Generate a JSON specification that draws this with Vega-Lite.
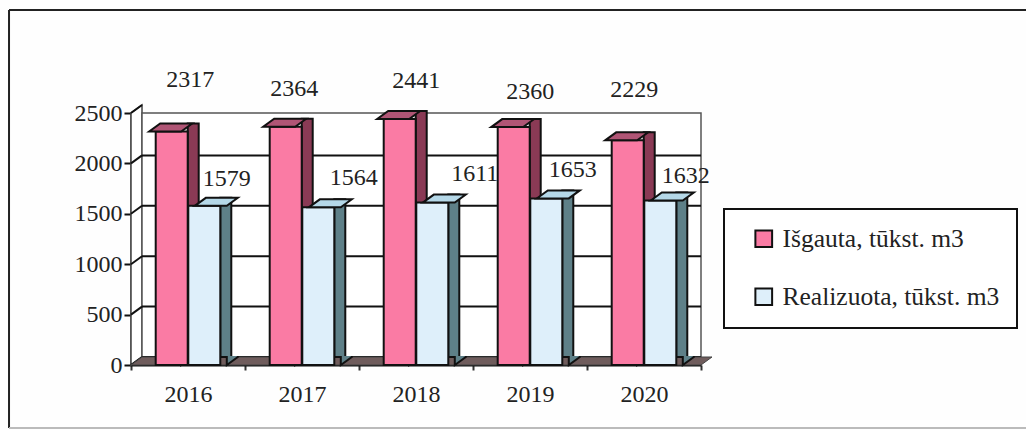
{"$schema":"https://vega.github.io/schema/vega-lite/v6.json","width":570,"height":252,"autosize":{"type":"none"},"padding":{"left":131,"top":113,"right":325,"bottom":65},"background":"#fefefe","config":{"view":{"stroke":null},"text":{"font":"Liberation Serif"},"legend":{"strokeWidth":2}},"datasets":{"rows":[{"year":"2016","series":"Išgauta, tūkst. m3","value":2317},{"year":"2016","series":"Realizuota, tūkst. m3","value":1579},{"year":"2017","series":"Išgauta, tūkst. m3","value":2364},{"year":"2017","series":"Realizuota, tūkst. m3","value":1564},{"year":"2018","series":"Išgauta, tūkst. m3","value":2441},{"year":"2018","series":"Realizuota, tūkst. m3","value":1611},{"year":"2019","series":"Išgauta, tūkst. m3","value":2360},{"year":"2019","series":"Realizuota, tūkst. m3","value":1653},{"year":"2020","series":"Išgauta, tūkst. m3","value":2229},{"year":"2020","series":"Realizuota, tūkst. m3","value":1632}],"grid":[{"v":0},{"v":500},{"v":1000},{"v":1500},{"v":2000},{"v":2500}],"one":[{"k":1}]},"resolve":{"scale":{"x":"independent","xOffset":"independent"},"axis":{"x":"independent"}},"layer":[{"data":{"name":"one"},"mark":{"type":"rule","color":"#222","strokeWidth":2},"encoding":{"x":{"datum":-0.214,"type":"quantitative","scale":{"domain":[0,1],"nice":false},"axis":null},"x2":{"datum":1.6},"y":{"datum":3522,"type":"quantitative","scale":{"domain":[0,2500],"nice":false},"axis":{"values":[0,500,1000,1500,2000,2500],"format":"d","title":null,"grid":false,"domainColor":"#111","domainWidth":2,"tickColor":"#111","tickWidth":2,"tickSize":7,"labelFont":"Liberation Serif","labelFontSize":24,"labelColor":"#222","labelPadding":2}}}},{"data":{"name":"one"},"mark":{"type":"rule","color":"#222","strokeWidth":2},"encoding":{"x":{"datum":-0.214,"type":"quantitative","scale":{"domain":[0,1],"nice":false},"axis":null},"y":{"datum":3522,"type":"quantitative"},"y2":{"datum":-625}}},{"data":{"name":"one"},"mark":{"type":"rule","color":"#bbb","strokeWidth":2},"encoding":{"x":{"datum":-0.214,"type":"quantitative","scale":{"domain":[0,1],"nice":false},"axis":null},"x2":{"datum":1.6},"y":{"datum":-625,"type":"quantitative"}}},{"data":{"name":"one"},"mark":{"type":"point","shape":"M0,0 L11,-8 L11,-260 L0,-252 Z","size":4,"filled":true,"opacity":1,"fill":"#fff","stroke":"#444","strokeWidth":1.5},"encoding":{"x":{"datum":0,"type":"quantitative","scale":{"domain":[0,1],"nice":false},"axis":null},"y":{"datum":0,"type":"quantitative"}}},{"data":{"name":"one"},"mark":{"type":"rect","fill":"#fff","stroke":"#555","strokeWidth":1.5,"xOffset":11,"yOffset":-8},"encoding":{"x":{"datum":0,"type":"quantitative","scale":{"domain":[0,1],"nice":false},"axis":null},"x2":{"datum":1},"y":{"datum":0,"type":"quantitative"},"y2":{"datum":2500}}},{"data":{"name":"grid"},"mark":{"type":"rule","color":"#111","strokeWidth":2,"xOffset":11,"yOffset":-8},"transform":[{"filter":"datum.v<2500"}],"encoding":{"x":{"datum":0,"type":"quantitative","scale":{"domain":[0,1],"nice":false},"axis":null},"x2":{"datum":1},"y":{"field":"v","type":"quantitative"}}},{"data":{"name":"grid"},"mark":{"type":"point","shape":"M0,0 L11,-8","size":4,"filled":false,"opacity":1,"stroke":"#111","strokeWidth":2},"encoding":{"x":{"datum":0,"type":"quantitative","scale":{"domain":[0,1],"nice":false},"axis":null},"y":{"field":"v","type":"quantitative"}}},{"data":{"name":"one"},"mark":{"type":"point","shape":"M0,0 L11,-8 L581,-8 L570,0 Z","size":4,"filled":true,"opacity":1,"fill":"#6f5c5c","stroke":"#444","strokeWidth":1},"encoding":{"x":{"datum":0,"type":"quantitative","scale":{"domain":[0,1],"nice":false},"axis":null},"y":{"datum":0,"type":"quantitative"}}},{"data":{"name":"rows"},"encoding":{"x":{"field":"year","type":"nominal","axis":null,"scale":{"domain":["2016","2017","2018","2019","2020"],"padding":0}},"xOffset":{"field":"series","scale":{"domain":["Išgauta, tūkst. m3","Realizuota, tūkst. m3"],"paddingOuter":0.75,"paddingInner":0}},"y":{"field":"value","type":"quantitative"},"text":{"field":"value"}},"layer":[{"transform":[{"filter":"datum.value==2317"}],"mark":{"type":"text","fontSize":24,"font":"Liberation Serif","color":"#222","dx":25,"dy":-51}},{"transform":[{"filter":"datum.value==1579"}],"mark":{"type":"text","fontSize":24,"font":"Liberation Serif","color":"#222","dx":16,"dy":-27}},{"transform":[{"filter":"datum.value==2364"}],"mark":{"type":"text","fontSize":24,"font":"Liberation Serif","color":"#222","dx":15,"dy":-38}},{"transform":[{"filter":"datum.value==1564"}],"mark":{"type":"text","fontSize":24,"font":"Liberation Serif","color":"#222","dx":29,"dy":-29}},{"transform":[{"filter":"datum.value==2441"}],"mark":{"type":"text","fontSize":24,"font":"Liberation Serif","color":"#222","dx":23,"dy":-38}},{"transform":[{"filter":"datum.value==1611"}],"mark":{"type":"text","fontSize":24,"font":"Liberation Serif","color":"#222","dx":36,"dy":-29}},{"transform":[{"filter":"datum.value==2360"}],"mark":{"type":"text","fontSize":24,"font":"Liberation Serif","color":"#222","dx":23,"dy":-35}},{"transform":[{"filter":"datum.value==1653"}],"mark":{"type":"text","fontSize":24,"font":"Liberation Serif","color":"#222","dx":20,"dy":-28}},{"transform":[{"filter":"datum.value==2229"}],"mark":{"type":"text","fontSize":24,"font":"Liberation Serif","color":"#222","dx":13,"dy":-50}},{"transform":[{"filter":"datum.value==1632"}],"mark":{"type":"text","fontSize":24,"font":"Liberation Serif","color":"#222","dx":19,"dy":-24.5}}]},{"data":{"name":"rows"},"transform":[{"filter":"datum.series=='Išgauta, tūkst. m3'"}],"mark":{"type":"bar","width":11,"yOffset":-8,"fill":"#8a3a55","stroke":"#111","strokeWidth":2},"encoding":{"x":{"field":"year","type":"nominal","axis":null,"scale":{"padding":0,"range":[21.5,591.5]}},"xOffset":{"field":"series","scale":{"domain":["Išgauta, tūkst. m3","Realizuota, tūkst. m3"],"paddingOuter":0.75,"paddingInner":0}},"y":{"field":"value","type":"quantitative"}}},{"data":{"name":"rows"},"transform":[{"filter":"datum.series=='Išgauta, tūkst. m3'"}],"mark":{"type":"point","shape":"M16,-9 L16,0 L27,-8 L27,-9","size":4,"filled":true,"opacity":1,"fill":"#8a3a55","stroke":"#111","strokeWidth":2},"encoding":{"x":{"field":"year","type":"nominal","axis":null,"scale":{"padding":0}},"xOffset":{"field":"series","scale":{"domain":["Išgauta, tūkst. m3","Realizuota, tūkst. m3"],"paddingOuter":0.75,"paddingInner":0}},"y":{"datum":0,"type":"quantitative"}}},{"data":{"name":"rows"},"transform":[{"filter":"datum.series=='Realizuota, tūkst. m3'"}],"mark":{"type":"bar","width":11,"yOffset":-8,"fill":"#5e8088","stroke":"#111","strokeWidth":2},"encoding":{"x":{"field":"year","type":"nominal","axis":null,"scale":{"padding":0,"range":[21.5,591.5]}},"xOffset":{"field":"series","scale":{"domain":["Išgauta, tūkst. m3","Realizuota, tūkst. m3"],"paddingOuter":0.75,"paddingInner":0}},"y":{"field":"value","type":"quantitative"}}},{"data":{"name":"rows"},"transform":[{"filter":"datum.series=='Realizuota, tūkst. m3'"}],"mark":{"type":"point","shape":"M16,-9 L16,0 L27,-8 L27,-9","size":4,"filled":true,"opacity":1,"fill":"#5e8088","stroke":"#111","strokeWidth":2},"encoding":{"x":{"field":"year","type":"nominal","axis":null,"scale":{"padding":0}},"xOffset":{"field":"series","scale":{"domain":["Išgauta, tūkst. m3","Realizuota, tūkst. m3"],"paddingOuter":0.75,"paddingInner":0}},"y":{"datum":0,"type":"quantitative"}}},{"data":{"name":"rows"},"mark":{"type":"bar","width":32,"stroke":"#111","strokeWidth":2},"encoding":{"x":{"field":"year","type":"nominal","title":null,"scale":{"padding":0},"axis":{"labelAngle":0,"labelFont":"Liberation Serif","labelFontSize":24,"labelColor":"#222","domainColor":"#111","domainWidth":2,"tickColor":"#333","tickWidth":2,"tickSize":5,"tickBand":"extent","labelPadding":12}},"xOffset":{"field":"series","scale":{"domain":["Išgauta, tūkst. m3","Realizuota, tūkst. m3"],"paddingOuter":0.75,"paddingInner":0}},"y":{"field":"value","type":"quantitative"},"color":{"field":"series","type":"nominal","scale":{"domain":["Išgauta, tūkst. m3","Realizuota, tūkst. m3"],"range":["#fa7ba4","#deeffa"]},"legend":{"orient":"none","legendX":593,"legendY":96,"title":null,"fillColor":"#fff","strokeColor":"#111","padding":17,"rowPadding":31,"symbolOffset":10,"symbolType":"square","symbolSize":280,"symbolStrokeColor":"#111","symbolStrokeWidth":2,"labelFont":"Liberation Serif","labelFontSize":25.5,"labelColor":"#222","labelOffset":6,"labelLimit":300,"labelExpr":"datum.label + '\u00a0\u00a0\u00a0\u00a0'"}}}},{"data":{"name":"rows"},"transform":[{"filter":"datum.series=='Išgauta, tūkst. m3'"}],"mark":{"type":"point","shape":"M-16,0 L16,0 L27,-8 L-5,-8 Z","size":4,"filled":true,"opacity":1,"fill":"#b05575","stroke":"#111","strokeWidth":2},"encoding":{"x":{"field":"year","type":"nominal","axis":null,"scale":{"padding":0}},"xOffset":{"field":"series","scale":{"domain":["Išgauta, tūkst. m3","Realizuota, tūkst. m3"],"paddingOuter":0.75,"paddingInner":0}},"y":{"field":"value","type":"quantitative"}}},{"data":{"name":"rows"},"transform":[{"filter":"datum.series=='Realizuota, tūkst. m3'"}],"mark":{"type":"point","shape":"M-16,0 L16,0 L27,-8 L-5,-8 Z","size":4,"filled":true,"opacity":1,"fill":"#b5d8e8","stroke":"#111","strokeWidth":2},"encoding":{"x":{"field":"year","type":"nominal","axis":null,"scale":{"padding":0}},"xOffset":{"field":"series","scale":{"domain":["Išgauta, tūkst. m3","Realizuota, tūkst. m3"],"paddingOuter":0.75,"paddingInner":0}},"y":{"field":"value","type":"quantitative"}}}]}
